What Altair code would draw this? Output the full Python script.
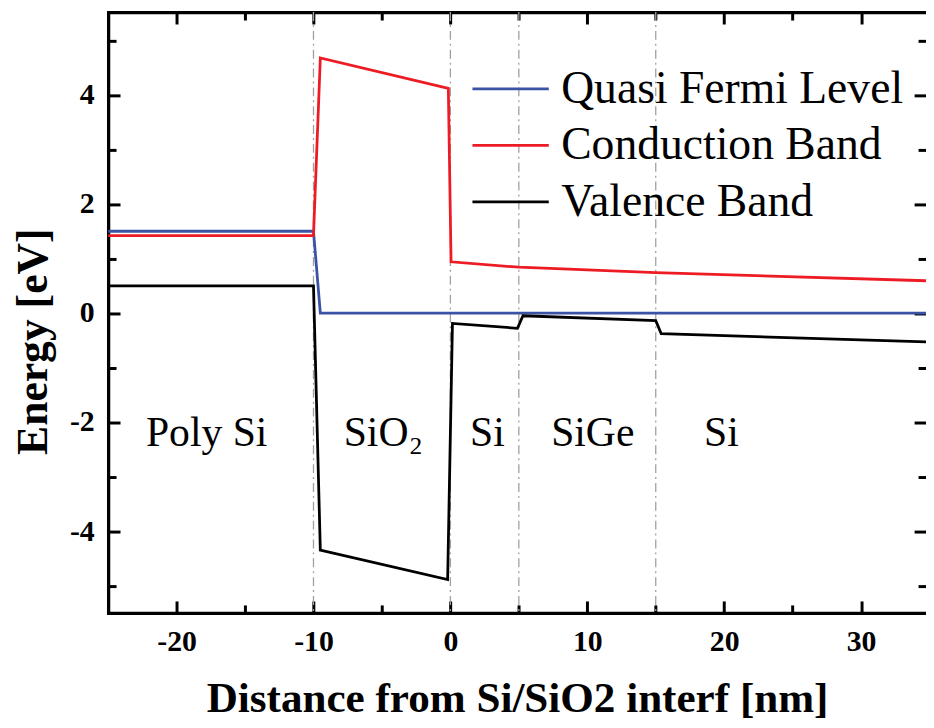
import altair as alt
import pandas as pd

# ---------------- data ----------------
series_names = ["Quasi Fermi Level", "Conduction Band", "Valence Band"]
series_colors = ["#3a53a4", "#ed1c24", "#000000"]

fermi_x = [-25, -10, -9.5, 35]
fermi_y = [1.50, 1.50, 0.0, 0.0]

cb_x = [-25, -10, -9.5, -0.15, 0.05, 5, 15, 35]
cb_y = [1.42, 1.42, 4.68, 4.12, 0.94, 0.84, 0.74, 0.59]

vb_x = [-25, -10, -9.5, -0.2, 0.15, 4.9, 5.3, 15, 15.4, 35]
vb_y = [0.50, 0.50, -4.35, -4.89, -0.19, -0.28, -0.05, -0.14, -0.38, -0.53]

boundaries = [-10, 0, 5, 15]

region_names = ["Poly Si", "SiO\u2082", "Si", "SiGe", "Si"]
region_x = [-17.8, -4.9, 2.7, 10.4, 19.8]
region_y = [-2.44, -2.44, -2.44, -2.44, -2.44]

x_major = [-20, -10, 0, 10, 20, 30]
x_minor = [-15, -5, 5, 15, 25]
y_major = [-4, -2, 0, 2, 4]
y_minor = [-5, -3, -1, 1, 3, 5]

X_DOM = [-25, 34.74]
Y_DOM = [-5.5, 5.52]

# ---------------- tables ----------------
rows = []
for name, xs_, ys_ in [(series_names[0], fermi_x, fermi_y),
                       (series_names[1], cb_x, cb_y),
                       (series_names[2], vb_x, vb_y)]:
    for i, (a, b) in enumerate(zip(xs_, ys_)):
        rows.append({"x": a, "y": b, "series": name, "i": i})
lines_df = pd.DataFrame(rows)
bound_df = pd.DataFrame({"x": boundaries})
region_df = pd.DataFrame({"x": region_x, "y": region_y, "label": region_names})

FONT = "Liberation Serif"
xs = alt.Scale(domain=X_DOM, nice=False, zero=False)
ys = alt.Scale(domain=Y_DOM, nice=False, zero=False)


def tick_axis(orient, values, size, domain=False):
    return alt.Axis(orient=orient, values=values, labels=False, grid=False,
                    domain=domain, domainWidth=3.3, domainColor="black",
                    domainCap="square", ticks=True,
                    tickSize={"expr": str(-size)}, tickWidth=3,
                    tickColor="black", title=None)


def tick_layer(xo, yo, xv, yv, size, xdomain):
    return alt.Chart(lines_df).mark_point(opacity=0).encode(
        x=alt.X("x:Q", scale=xs, axis=tick_axis(xo, xv, size, xdomain)),
        y=alt.Y("y:Q", scale=ys, axis=tick_axis(yo, yv, size, False)),
    )


vlines = alt.Chart(bound_df).mark_rule(
    color="#a0a0a0", strokeWidth=1.3, strokeDash=[9, 4, 2, 4]
).encode(x=alt.X("x:Q", scale=xs, axis=None))

lines = alt.Chart(lines_df).mark_line(strokeWidth=2.8, clip=True).encode(
    x=alt.X("x:Q", scale=xs, axis=alt.Axis(
        orient="bottom", values=x_major, ticks=False, grid=False,
        domain=True, domainWidth=3.3, domainColor="black", domainCap="square",
        labelFont=FONT, labelFontWeight="bold", labelFontSize=30,
        labelColor="black", labelPadding=14, labelOverlap=False,
        labelFlush=False, labelExpr="datum.value + ''",
        title="Distance from Si/SiO2 interf [nm]", titleFont=FONT,
        titleFontSize=43.5, titleFontWeight="bold", titleColor="black",
        titleY=100, titleBaseline="alphabetic")),
    y=alt.Y("y:Q", scale=ys, axis=alt.Axis(
        orient="left", values=y_major, ticks=False, grid=False,
        domain=True, domainWidth=3.3, domainColor="black", domainCap="square",
        labelFont=FONT, labelFontWeight="bold", labelFontSize=30,
        labelColor="black", labelPadding=14, labelOverlap=False,
        labelFlush=False, labelExpr="datum.value + ''",
        title="Energy [eV]", titleFont=FONT, titleFontSize=44,
        titleFontWeight="bold", titleColor="black", titleAngle=270,
        titleX=-75, titleY=332, titleBaseline="middle", titleAlign="center")),
    color=alt.Color("series:N", scale=alt.Scale(domain=series_names, range=series_colors),
                    legend=alt.Legend(title=None, orient="none", legendX=366, legendY=49,
                                      symbolType="stroke", symbolSize=5929,
                                      symbolStrokeWidth=2.8, labelFont=FONT,
                                      labelFontSize=46, labelColor="black",
                                      labelLimit=0, labelOffset=11,
                                      rowPadding=0, clipHeight=57,
                                      padding=0)),
    order="i:Q",
)

texts = alt.Chart(region_df).mark_text(
    font=FONT, fontSize=42, align="center", baseline="alphabetic", color="black"
).encode(
    x=alt.X("x:Q", scale=xs, axis=None),
    y=alt.Y("y:Q", scale=ys, axis=None),
    text="label:N",
)

chart = alt.layer(
    vlines, lines, texts,
    tick_layer("bottom", "left", x_major, y_major, 12, False),
    tick_layer("bottom", "left", x_minor, y_minor, 8, False),
    tick_layer("top", "right", x_major, y_major, 12, True),
    tick_layer("top", "right", x_minor, y_minor, 8, False),
).resolve_axis(x="independent", y="independent").properties(
    width=825, height=606,
    padding={"left": 101, "top": 1, "right": 0, "bottom": 112},
    autosize=alt.AutoSizeParams(type="none"),
).configure_view(stroke=None)

chart.save("out.html", embed_options={"renderer": "svg", "actions": False})
